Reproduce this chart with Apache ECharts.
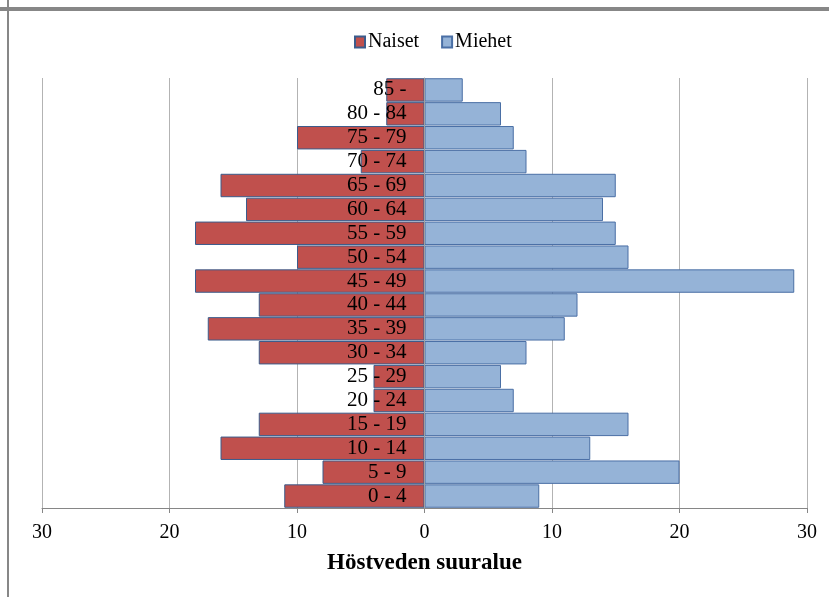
<!DOCTYPE html>
<html><head><meta charset="utf-8">
<script src="https://cdn.jsdelivr.net/npm/echarts@6/dist/echarts.min.js"></script>
<style>html,body{margin:0;padding:0;background:#fff}#c{width:829px;height:597px}</style>
</head><body><div id="c"></div>
<script>
const categories = ['0 - 4','5 - 9','10 - 14','15 - 19','20 - 24','25 - 29','30 - 34','35 - 39','40 - 44','45 - 49','50 - 54','55 - 59','60 - 64','65 - 69','70 - 74','75 - 79','80 - 84','85 -'];
const naiset = [11,8,16,13,4,4,13,17,13,18,10,18,14,16,5,10,3,3];
const miehet = [9,20,13,16,7,6,8,11,12,29,16,15,14,15,8,7,6,3];
const xTicks = {min:-30, max:30, interval:10};

const chart = echarts.init(document.getElementById('c'));
const serif = '"Liberation Serif","Times New Roman",serif';
const gridLeft = 42, gridRight = 22;
const plotW = 829 - gridLeft - gridRight;
const zeroOffset = -plotW * (0 - xTicks.min) / (xTicks.max - xTicks.min);
chart.setOption({
  animation:false,
  graphic:[
    {type:'rect', shape:{x:0,y:7,width:829,height:4}, style:{fill:'#878787'}},
    {type:'rect', shape:{x:7,y:0,width:2,height:597}, style:{fill:'#878787'}}
  ],
  legend:{
    top:27, left:349, itemGap:22, itemWidth:10, itemHeight:11, icon:'rect',
    textStyle:{fontFamily:serif, fontSize:20, color:'#000', padding:[0,0,0,-2]},
    data:['Naiset','Miehet']
  },
  grid:{left:gridLeft, right:gridRight, top:78, bottom:89, containLabel:false, outerBoundsMode:'none'},
  xAxis:{
    type:'value', min:xTicks.min, max:xTicks.max, interval:xTicks.interval,
    name:'Höstveden suuralue', nameLocation:'middle', nameGap:44,
    nameTextStyle:{fontFamily:serif, fontSize:23, fontWeight:'bold', color:'#000'},
    axisLine:{show:true, lineStyle:{color:'#868686'}},
    axisTick:{show:true, length:5, lineStyle:{color:'#868686'}},
    axisLabel:{fontFamily:serif, fontSize:20, color:'#000', margin:15, formatter:v=>Math.abs(v)},
    splitLine:{show:true, lineStyle:{color:'#b3b3b3'}}
  },
  yAxis:{
    type:'category', data:categories, z:10, position:'left', offset:zeroOffset,
    axisLine:{show:true, onZero:false, lineStyle:{color:'#a0a0a0'}},
    axisTick:{show:false},
    axisLabel:{fontFamily:serif, fontSize:21, color:'#000', margin:18, interval:0, hideOverlap:false, padding:[4,0,0,0]}
  },
  series:[
    {name:'Naiset', type:'bar', stack:'t', barCategoryGap:'2%',
     data:naiset.map(v=>-v),
     itemStyle:{color:'#C0504D', borderColor:'#3B5C8C', borderWidth:1}},
    {name:'Miehet', type:'bar', stack:'t', barCategoryGap:'2%',
     data:miehet,
     itemStyle:{color:'#95B3D7', borderColor:'#4A6FA5', borderWidth:1}}
  ]
});
</script></body></html>
